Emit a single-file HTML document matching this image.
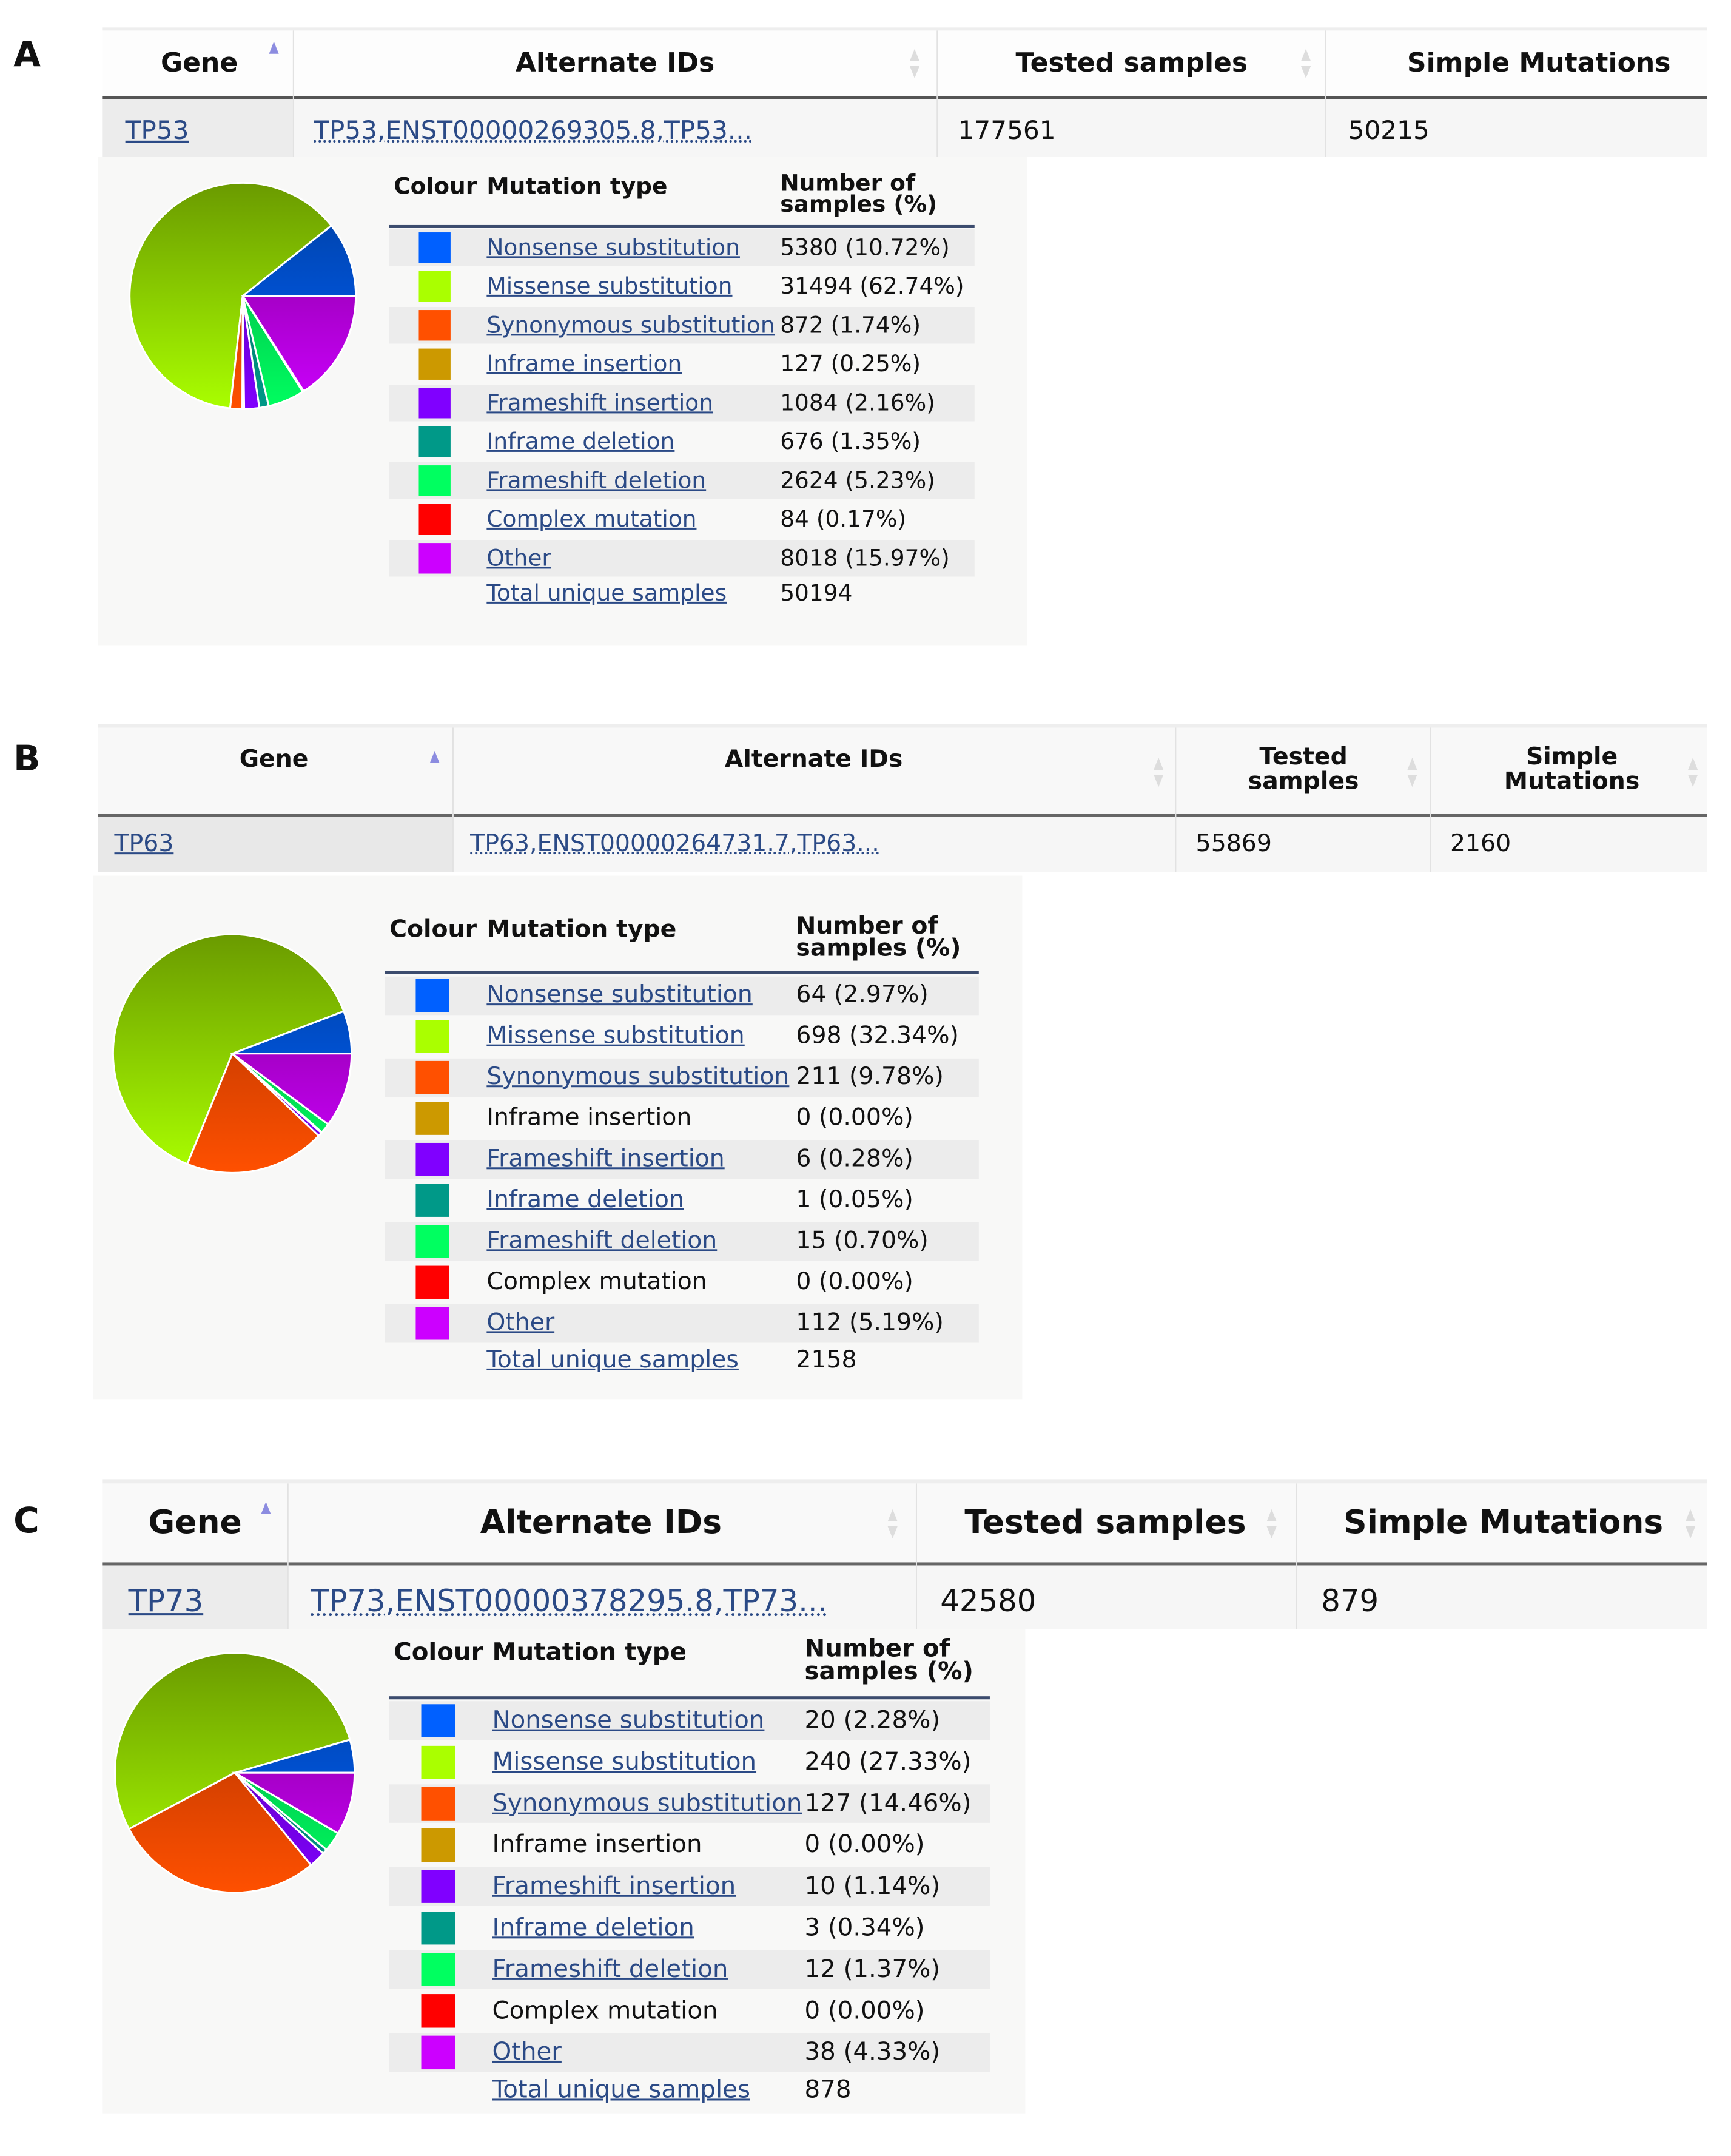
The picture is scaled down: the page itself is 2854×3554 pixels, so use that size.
<!DOCTYPE html>
<html><head><meta charset="utf-8"><style>
body{margin:0;width:2854px;height:3526px;background:#fff;position:relative;overflow:hidden;font-family:"DejaVu Sans","Liberation Sans",sans-serif;}
#root{position:absolute;left:0;top:0;width:2854px;height:3526px;transform:scale(1.008);transform-origin:0 0;}
.a{position:absolute;white-space:nowrap;}
.lk{color:#2b4a86;text-decoration:underline;}
.dt{color:#2b4a86;text-decoration:underline dotted;}
.b{font-weight:bold;color:#111;}
</style></head><body>
<div id="root"></div>
<script>
var R=document.getElementById('root');var h='';var K=0.93;
function box(x,y,w,ht,bg,ex){h+='<div class="a" style="left:'+x+'px;top:'+y+'px;width:'+w+'px;height:'+ht+'px;background:'+bg+';'+(ex||'')+'"></div>';}
function txt(x,y,s,fs,cls,ex,center){var f=fs*K;h+='<div class="a '+(cls||'')+'" style="left:'+x+'px;top:'+(y-f*0.6)+'px;font-size:'+f+'px;line-height:'+f*1.15+'px;'+(center?'transform:translateX(-50%);text-align:center;':'')+(ex||'')+'">'+s+'</div>';}
function sortIc(x,y,up){h+='<svg class="a" style="left:'+(x-10)+'px;top:'+(y-26)+'px" width="20" height="52"><polygon points="10,2 18,22 2,22" fill="'+(up?'#8c8ce0':'#ddd')+'"/>'+(up?'':'<polygon points="10,50 18,30 2,30" fill="#ddd"/>')+'</svg>';}
var cols=['#0060ff','#aaff00','#ff5000','#cc9900','#8000ff','#009988','#00ff60','#ff0000','#cc00ff'];
var tops=['#0040a0','#6a9a00','#a83000','#806000','#5000a0','#006055','#00a040','#a00000','#800090'];
var names=['Nonsense substitution','Missense substitution','Synonymous substitution','Inframe insertion','Frameshift insertion','Inframe deletion','Frameshift deletion','Complex mutation','Other'];
var gid=0;
function pie(cx,cy,r,counts){var s=0;counts.forEach(function(c){s+=c});var a=0;var out='<svg class="a" style="left:'+(cx-r-2)+'px;top:'+(cy-r-2)+'px" width="'+(2*r+4)+'" height="'+(2*r+4)+'"><defs>';
 for(var i=0;i<9;i++){out+='<linearGradient id="g'+gid+'_'+i+'" gradientUnits="userSpaceOnUse" x1="0" y1="0" x2="0" y2="'+(2*r+4)+'"><stop offset="0" stop-color="'+tops[i]+'"/><stop offset="1" stop-color="'+cols[i]+'"/></linearGradient>';}
 out+='</defs>';var c0=r+2;
 for(var i=0;i<9;i++){if(!counts[i])continue;var da=counts[i]/s*2*Math.PI;var a2=a+da;
  var x1=c0+r*Math.cos(a),y1=c0-r*Math.sin(a),x2=c0+r*Math.cos(a2),y2=c0-r*Math.sin(a2);
  out+='<path d="M'+c0+','+c0+' L'+x1+','+y1+' A'+r+','+r+' 0 '+(da>Math.PI?1:0)+' 0 '+x2+','+y2+' Z" fill="url(#g'+gid+'_'+i+')" stroke="#fff" stroke-width="3"/>';a=a2;}
 gid++;h+=out+'</svg>';}
function legend(o){
 txt(o.x0+8,o.hy,'Colour',o.fs,'b');txt(o.tx,o.hy,'Mutation type',o.fs,'b');
 var f=o.fs*K;
 h+='<div class="a b" style="left:'+o.nx+'px;top:'+(o.hy-f*0.62)+'px;font-size:'+f+'px;line-height:'+(f*0.92)+'px">Number of<br>samples (%)</div>';
 box(o.x0,o.line-2,o.x1-o.x0,5,'#3c4c6e');
 for(var i=0;i<9;i++){var y=o.r1+i*o.dy;if(i%2==0)box(o.x0,y-o.dy/2+2,o.x1-o.x0,o.dy-4,'#ececec');
  box(o.sw,y-o.dy*0.4,o.dy*0.82,o.dy*0.8,cols[i]);
  txt(o.tx,y,names[i],o.fs,o.links[i]?'lk':'','color:'+(o.links[i]?'#2b4a86':'#111'));
  txt(o.nx,y,o.vals[i],o.fs,'','color:#111');}
 var y=o.r1+9*o.dy-6;txt(o.tx,y,'Total unique samples',o.fs,'lk');txt(o.nx,y,o.total,o.fs,'','color:#111');}
/* ---- A ---- */
txt(22,90,'A',62,'b');
box(167,45,2625,5,'#eee');box(167,50,2625,110,'#fdfdfd');box(167,157,2625,5,'#555');
box(167,162,2625,94,'#f6f6f6');box(167,162,312,94,'#ececec');
[479,1532,2167].forEach(function(x){box(x,50,2,206,'#e2e2e2')});
txt(326,104,'Gene',47,'b','',1);sortIc(448,92,1);
txt(1006,104,'Alternate IDs',47,'b','',1);sortIc(1496,104);
txt(1851,104,'Tested samples',47,'b','',1);sortIc(2136,104);
txt(2517,104,'Simple Mutations',47,'b','',1);
txt(205,214,'TP53',45,'lk');txt(513,214,'TP53,ENST00000269305.8,TP53...',45,'dt');
txt(1567,214,'177561',45,'','color:#111');txt(2205,214,'50215',45,'','color:#111');
box(160,256,1520,800,'#f8f8f7');
pie(397,484,185,[5380,31494,872,127,1084,676,2624,84,8018]);
legend({x0:636,x1:1594,hy:305,line:370,r1:405,dy:63.5,sw:685,tx:796,nx:1276,fs:40,
 vals:['5380 (10.72%)','31494 (62.74%)','872 (1.74%)','127 (0.25%)','1084 (2.16%)','676 (1.35%)','2624 (5.23%)','84 (0.17%)','8018 (15.97%)'],links:[1,1,1,1,1,1,1,1,1],total:'50194'});
/* ---- B ---- */
txt(22,1242,'B',62,'b');
box(160,1184,2632,6,'#eee');box(160,1190,2632,142,'#f8f8f8');box(160,1331,2632,5,'#666');
box(160,1336,2632,90,'#f6f6f6');box(160,1336,580,90,'#e8e8e8');
[740,1922,2339].forEach(function(x){box(x,1190,2,236,'#e2e2e2')});
txt(448,1243,'Gene',42,'b','',1);sortIc(711,1252,1);
txt(1331,1243,'Alternate IDs',42,'b','',1);sortIc(1895,1263);
h+='<div class="a b" style="left:2132px;top:1218px;transform:translateX(-50%);text-align:center;font-size:'+(42*K)+'px;line-height:40px">Tested<br>samples</div>';sortIc(2310,1263);
h+='<div class="a b" style="left:2571px;top:1218px;transform:translateX(-50%);text-align:center;font-size:'+(42*K)+'px;line-height:40px">Simple<br>Mutations</div>';sortIc(2769,1263);
txt(187,1381,'TP63',42,'lk');txt(769,1381,'TP63,ENST00000264731.7,TP63...',42,'dt');
txt(1956,1381,'55869',42,'','color:#111');txt(2372,1381,'2160',42,'','color:#111');
box(152,1432,1520,856,'#f8f8f7');
pie(380,1723,195,[64,698,211,0,6,1,15,0,112]);
legend({x0:629,x1:1601,hy:1521,line:1590,r1:1628,dy:67,sw:680,tx:796,nx:1302,fs:42,
 vals:['64 (2.97%)','698 (32.34%)','211 (9.78%)','0 (0.00%)','6 (0.28%)','1 (0.05%)','15 (0.70%)','0 (0.00%)','112 (5.19%)'],links:[1,1,1,0,1,1,1,0,1],total:'2158'});
/* ---- C ---- */
txt(22,2488,'C',62,'b');
box(167,2419,2625,7,'#eee');box(167,2426,2625,131,'#f9f9f9');box(167,2555,2625,5,'#666');
box(167,2560,2625,104,'#f6f6f6');box(167,2560,303,104,'#ececec');
[470,1498,2120].forEach(function(x){box(x,2426,2,238,'#e2e2e2')});
txt(319,2491,'Gene',57,'b','',1);sortIc(435,2480,1);
txt(983,2491,'Alternate IDs',57,'b','',1);sortIc(1460,2492);
txt(1808,2491,'Tested samples',57,'b','',1);sortIc(2080,2492);
txt(2459,2491,'Simple Mutations',57,'b','',1);sortIc(2765,2492);
txt(210,2620,'TP73',53,'lk');txt(508,2620,'TP73,ENST00000378295.8,TP73...',53,'dt');
txt(1538,2620,'42580',53,'','color:#111');txt(2161,2620,'879',53,'','color:#111');
box(167,2664,1510,792,'#f8f8f7');
pie(384,2899,196,[20,240,127,0,10,3,12,0,38]);
legend({x0:636,x1:1619,hy:2703,line:2776,r1:2814,dy:67.8,sw:689,tx:805,nx:1316,fs:43,
 vals:['20 (2.28%)','240 (27.33%)','127 (14.46%)','0 (0.00%)','10 (1.14%)','3 (0.34%)','12 (1.37%)','0 (0.00%)','38 (4.33%)'],links:[1,1,1,0,1,1,1,0,1],total:'878'});
R.innerHTML=h;
</script>
</body></html>
